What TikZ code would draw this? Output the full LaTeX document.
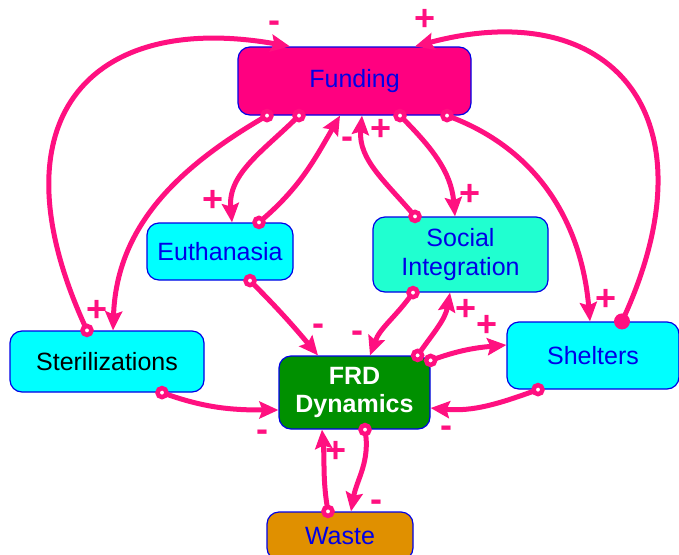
\documentclass[tikz,border=0pt]{standalone}
\usepackage{fontspec}
\setmainfont{Liberation Sans}
\usetikzlibrary{arrows.meta}
\definecolor{linkpink}{RGB}{255,16,128}
\definecolor{fundpink}{RGB}{255,0,128}
\definecolor{boxcyan}{RGB}{0,255,255}
\definecolor{boxaqua}{RGB}{32,255,208}
\definecolor{frdgreen}{RGB}{0,144,0}
\definecolor{wasteorange}{RGB}{224,144,0}
\definecolor{edgeblue}{RGB}{0,0,230}
\begin{document}
\begin{tikzpicture}
	[x=1pt,y=1pt,
	 factor/.style={rectangle,rounded corners=12pt,draw=edgeblue,line width=1.2pt,
	 	text=edgeblue,align=center,inner sep=0pt,font=\fontsize{25}{29}\selectfont},
	 link/.style={linkpink,line width=5pt,-{Stealth[length=19pt,width=17pt,inset=3pt]}},
	 srcdot/.style={circle,draw=linkpink,fill=white,line width=4.5pt,minimum size=9pt,inner sep=0pt},
	 srcfull/.style={circle,fill=linkpink,minimum size=16pt,inner sep=0pt},
	 sign/.style={text=linkpink,inner sep=0pt,font=\fontsize{36}{36}\selectfont\bfseries}]
	\useasboundingbox (0,0) rectangle (679,-554);
	\node[factor,fill=fundpink,minimum width=233pt,minimum height=68pt] (fund) at (354.5,-81) {Funding};
	\node[factor,fill=boxcyan,minimum width=146pt,minimum height=57pt] (euth) at (220,-251.5) {Euthanasia};
	\node[factor,fill=boxaqua,minimum width=175pt,minimum height=75pt] (social) at (460.5,-254.5) {Social\\Integration};
	\node[factor,fill=boxcyan,text=black,minimum width=194pt,minimum height=61pt] (steril) at (107,-361.5) {Sterilizations};
	\node[factor,fill=frdgreen,text=white,font=\fontsize{25}{28}\selectfont\bfseries,minimum width=151pt,minimum height=73pt] (frd) at (354.5,-392.5) {FRD\\Dynamics};
	\node[factor,fill=boxcyan,minimum width=172pt,minimum height=67pt] (shelt) at (593,-355.5) {Shelters};
	\node[factor,fill=wasteorange,minimum width=146pt,minimum height=48pt] (waste) at (340,-536) {Waste};

	\draw[link] ([xshift=-20pt]steril.north) to[out=115,in=170,out looseness=1.7,in looseness=1.5] node[srcdot,pos=0]{} ([xshift=-64.5pt]fund.north);
	\draw[link] ([xshift=-87.5pt]fund.south) to[out=210,in=88] node[srcdot,pos=0]{} ([xshift=6pt]steril.north);
	\draw[link] ([xshift=-55.5pt]fund.south) to[out=225,in=95] node[srcdot,pos=0]{} ([xshift=12pt]euth.north);
	\draw[link] ([xshift=39pt]euth.north) to[out=40,in=240] node[srcdot,pos=0]{} ([xshift=-14.5pt]fund.south);
	\draw[link] ([xshift=-45.5pt]social.north) to[out=130,in=265] node[srcdot,pos=0]{} ([xshift=7.5pt]fund.south);
	\draw[link] ([xshift=45.5pt]fund.south) to[out=-45,in=95] node[srcdot,pos=0]{} ([xshift=-5.5pt]social.north);
	\draw[link] ([xshift=92.5pt]fund.south) to[out=-20,in=95] node[srcdot,pos=0]{} ([xshift=-3pt]shelt.north);
	\draw[link] ([xshift=29pt]shelt.north) to[out=65,in=15,out looseness=1.7,in looseness=1.5] node[srcfull,pos=0]{} ([xshift=60.5pt]fund.north);
	\draw[link] ([xshift=30pt]euth.south) to[out=-45,in=130] node[srcdot,pos=0]{} ([xshift=-36.5pt]frd.north);
	\draw[link] ([xshift=-47.5pt]social.south) to[out=235,in=70] node[srcdot,pos=0]{} ([xshift=15.5pt]frd.north);
	\draw[link] ([xshift=-13pt]frd.north east) to[out=55,in=260] node[srcdot,pos=0]{} ([xshift=-10.5pt]social.south);
	\draw[link] ([yshift=-5pt]frd.north east) to[out=20,in=185] node[srcdot,pos=0]{} ([yshift=10.5pt]shelt.west);
	\draw[link] ([xshift=-55pt]shelt.south) to[out=-160,in=-5] node[srcdot,pos=0]{} ([yshift=-15.5pt]frd.east);
	\draw[link] ([xshift=55pt]steril.south) to[out=-20,in=180] node[srcdot,pos=0]{} ([yshift=-17.5pt]frd.west);
	\draw[link] ([xshift=10.5pt]frd.south) to[out=-80,in=80] node[srcdot,pos=0]{} ([xshift=11pt]waste.north);
	\draw[link] ([xshift=-12pt]waste.north) to[out=100,in=-85] node[srcdot,pos=0]{} ([xshift=-32.5pt]frd.south);

	\node[sign] (s1) at (274,-27) {-};
	\node[sign] (s2) at (97,-311) {+};
	\node[sign] (s3) at (213,-201) {+};
	\node[sign] (s4) at (347,-143) {-};
	\node[sign] (s5) at (381,-130) {+};
	\node[sign] (s6) at (470,-195) {+};
	\node[sign] (s7) at (606,-300) {+};
	\node[sign] (s8) at (425,-20) {+};
	\node[sign] (s9) at (318,-330) {-};
	\node[sign] (s10) at (357,-337) {-};
	\node[sign] (s11) at (466,-310) {+};
	\node[sign] (s12) at (487,-326) {+};
	\node[sign] (s13) at (446,-432) {-};
	\node[sign] (s14) at (262,-436) {-};
	\node[sign] (s15) at (376,-506) {-};
	\node[sign] (s16) at (336,-452) {+};
\end{tikzpicture}
\end{document}
